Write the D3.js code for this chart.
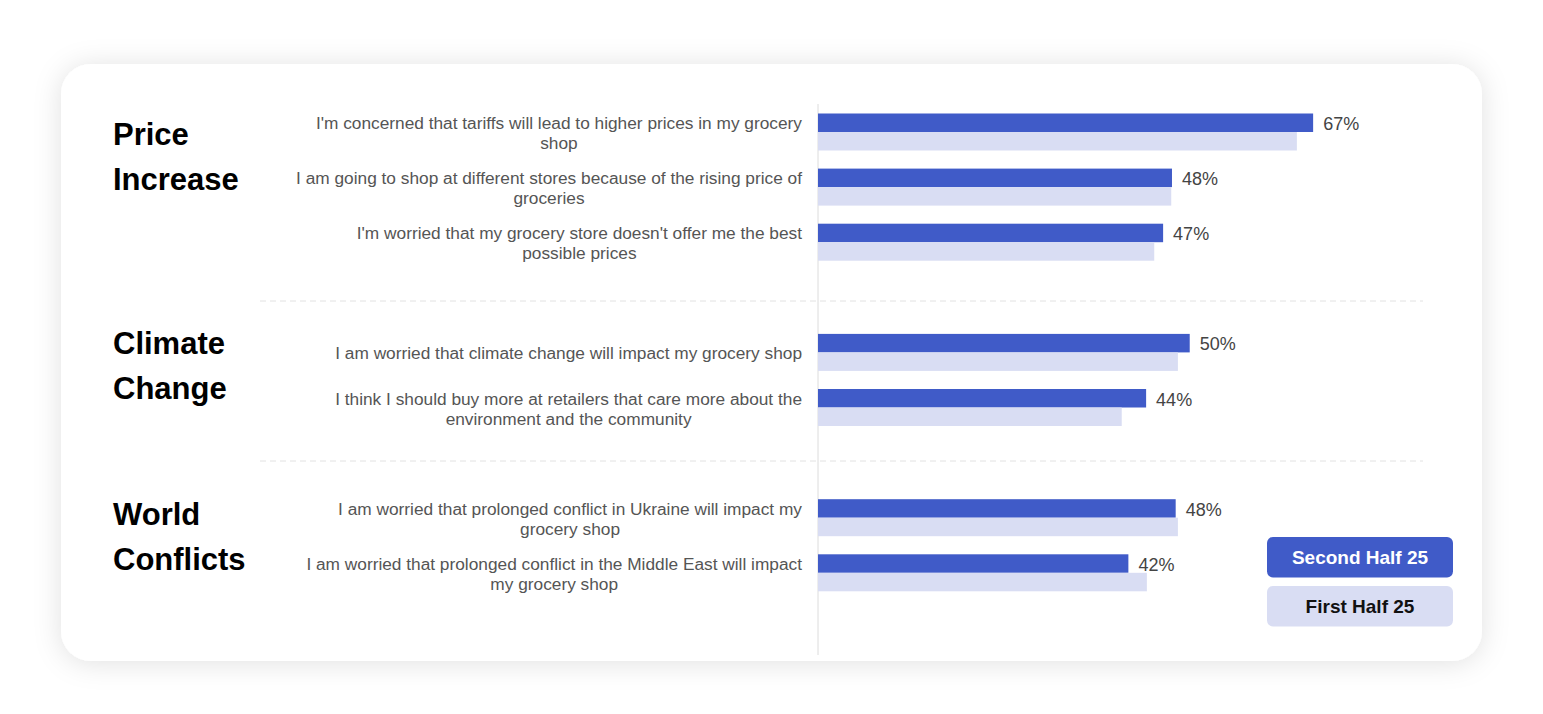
<!DOCTYPE html>
<html>
<head>
<meta charset="utf-8">
<script src="https://cdn.jsdelivr.net/npm/d3@7"></script>
<style>
  html, body { margin: 0; padding: 0; background: #fff; }
  svg { display: block; }
  text { font-family: "Liberation Sans", Arial, sans-serif; }
</style>
</head>
<body>
<svg id="chart" width="1543" height="714"></svg>
<script>
// ---- data ----
const groups = ["Price\nIncrease", "Climate\nChange", "World\nConflicts"];
const groupOf = [0, 0, 0, 1, 1, 2, 2];
const statements = [
  "I'm concerned that tariffs will lead to higher prices in my grocery\nshop",
  "I am going to shop at different stores because of the rising price of\ngroceries",
  "I'm worried that my grocery store doesn't offer me the best\npossible prices",
  "I am worried that climate change will impact my grocery shop",
  "I think I should buy more at retailers that care more about the\nenvironment and the community",
  "I am worried that prolonged conflict in Ukraine will impact my\ngrocery shop",
  "I am worried that prolonged conflict in the Middle East will impact\nmy grocery shop"
];
const secondHalf25 = [67, 47.9, 46.7, 50.3, 44.4, 48.4, 42.0];
const firstHalf25  = [64.8, 47.8, 45.5, 48.7, 41.1, 48.7, 44.5];
const seriesNames = ["Second Half 25", "First Half 25"];

// ---- layout ----
const W = 1543, H = 714;
const colDark = "#405BC8", colLight = "#D9DDF3";
const svg = d3.select("#chart");

const defs = svg.append("defs");
const f = defs.append("filter").attr("id", "shadow")
  .attr("x", "-10%").attr("y", "-20%").attr("width", "120%").attr("height", "140%");
f.append("feDropShadow").attr("dx", 0).attr("dy", 2).attr("stdDeviation", 14)
  .attr("flood-color", "#000").attr("flood-opacity", 0.12);

svg.append("rect").attr("width", W).attr("height", H).attr("fill", "#fff");
svg.append("rect").attr("x", 61).attr("y", 64).attr("width", 1421).attr("height", 597)
  .attr("rx", 30).attr("fill", "#fff").attr("filter", "url(#shadow)");

const x = d3.scaleLinear().domain([0, 100]).range([818, 818 + 739]);
// one slot per row plus one spacer slot between groups
const slotOf = d3.range(statements.length).map(i => i + groupOf[i]);
const y = d3.scaleLinear().domain([0, 1]).range([113.5, 168.6]);
const barH = 18.5;
const rowTop = i => y(slotOf[i]);

// dividers
const dividerYs = [301, 461];
svg.selectAll(".divider").data(dividerYs).join("line")
  .attr("x1", 260).attr("x2", 1423).attr("y1", d => d).attr("y2", d => d)
  .attr("stroke", "#e2e2e2").attr("stroke-width", 1).attr("stroke-dasharray", "6,4");

// axis line
svg.append("line").attr("x1", x(0)).attr("x2", x(0)).attr("y1", 104).attr("y2", 655)
  .attr("stroke", "#dcdcdc").attr("stroke-width", 1);

// bars
const idx = d3.range(statements.length);
svg.selectAll(".bar2").data(idx).join("rect")
  .attr("x", x(0)).attr("y", i => rowTop(i))
  .attr("width", i => x(secondHalf25[i]) - x(0)).attr("height", barH)
  .attr("fill", colDark);
svg.selectAll(".bar1").data(idx).join("rect")
  .attr("x", x(0)).attr("y", i => rowTop(i) + barH)
  .attr("width", i => x(firstHalf25[i]) - x(0)).attr("height", barH)
  .attr("fill", colLight);

// value labels
svg.selectAll(".val").data(idx).join("text")
  .attr("x", i => x(secondHalf25[i]) + 10).attr("y", i => rowTop(i) + barH / 2 + 1)
  .attr("dy", "0.35em").attr("font-size", 18).attr("fill", "#444")
  .text(i => Math.round(secondHalf25[i]) + "%");

// statement labels (centered block, right-aligned at 802)
const labelRight = 802, lineH = 20;
idx.forEach(i => {
  const lines = statements[i].split("\n");
  const cy = rowTop(i) + barH + 1;
  const g = svg.append("g");
  const ts = lines.map((ln, k) => g.append("text")
    .attr("font-size", 17.3).attr("fill", "#555").attr("text-anchor", "middle")
    .attr("y", cy + (k - (lines.length - 1) / 2) * lineH).attr("dy", "0.35em")
    .text(ln));
  const maxW = d3.max(ts, t => t.node().getComputedTextLength());
  ts.forEach(t => t.attr("x", labelRight - maxW / 2));
});

// group titles
const titleBaselines = [145, 354, 525];
groups.forEach((gname, gi) => {
  gname.split("\n").forEach((ln, k) => {
    svg.append("text").attr("x", 113).attr("y", titleBaselines[gi] + k * 45)
      .attr("font-size", 31).attr("font-weight", "bold").attr("fill", "#000").text(ln);
  });
});

// legend
const legY = [537, 586];
const legColors = [colDark, colLight];
const legText = ["#fff", "#111"];
seriesNames.forEach((s, k) => {
  svg.append("rect").attr("x", 1267).attr("y", legY[k]).attr("width", 186).attr("height", 40.5)
    .attr("rx", 6).attr("fill", legColors[k]);
  svg.append("text").attr("x", 1360).attr("y", legY[k] + 20.5).attr("dy", "0.35em")
    .attr("text-anchor", "middle").attr("font-size", 19).attr("font-weight", "bold")
    .attr("fill", legText[k]).text(s);
});
</script>
</body>
</html>
